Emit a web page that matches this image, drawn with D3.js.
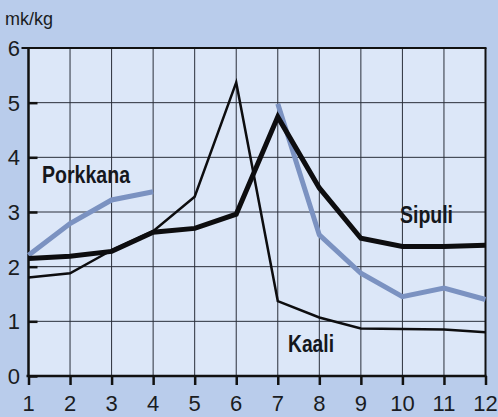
<!DOCTYPE html>
<html>
<head>
<meta charset="utf-8">
<script src="https://cdn.jsdelivr.net/npm/d3@7"></script>
<style>
  html, body { margin: 0; padding: 0; background: #b9cceb; }
  svg { display: block; font-family: "Liberation Sans", Arial, sans-serif; }
</style>
</head>
<body>
<svg id="svg1" width="498" height="417"></svg>
<script>
'use strict'

// months on the x axis
const months = [1, 2, 3, 4, 5, 6, 7, 8, 9, 10, 11, 12];
const yTicks = [0, 1, 2, 3, 4, 5, 6];

// prices, mk/kg (null = no value)
const kaali    = [1.80, 1.88, 2.30, 2.65, 3.28, 5.37, 1.37, 1.07, 0.87, 0.86, 0.85, 0.80];
const sipuli   = [2.15, 2.19, 2.28, 2.63, 2.70, 2.96, 4.74, 3.44, 2.52, 2.37, 2.37, 2.39];
const porkkana = [2.21, 2.79, 3.22, 3.37, null, null, 4.98, 2.58, 1.88, 1.45, 1.61, 1.40];

const svg = d3.select("#svg1");

let x = d3.scaleLinear().domain([1, 12]).range([28.5, 485.5]);
let y = d3.scaleLinear().domain([0, 6]).range([376, 48]);

// plot background
svg.append("rect")
  .attr("x", x(1)).attr("y", y(6))
  .attr("width", x(12) - x(1)).attr("height", y(0) - y(6))
  .attr("fill", "#dce7f8");

// grid
let grid = svg.append("g").attr("stroke", "#2a2f3a").attr("stroke-width", 1);
grid.selectAll(".vg").data(months).enter().append("line")
  .attr("x1", d => x(d)).attr("x2", d => x(d))
  .attr("y1", y(6)).attr("y2", y(0));
grid.selectAll(".hg").data(yTicks).enter().append("line")
  .attr("x1", x(1)).attr("x2", x(12))
  .attr("y1", d => y(d)).attr("y2", d => y(d));

// frame: left and bottom heavier
svg.append("line").attr("x1", x(1)).attr("x2", x(1)).attr("y1", y(6)).attr("y2", y(0))
  .attr("stroke", "#111").attr("stroke-width", 2.5);
svg.append("line").attr("x1", x(1) - 2).attr("x2", x(12) + 1).attr("y1", y(0)).attr("y2", y(0))
  .attr("stroke", "#111").attr("stroke-width", 2.5);
svg.append("line").attr("x1", x(1) - 7).attr("x2", x(12) + 1).attr("y1", y(6)).attr("y2", y(6))
  .attr("stroke", "#111").attr("stroke-width", 2);
svg.append("line").attr("x1", x(12)).attr("x2", x(12)).attr("y1", y(6)).attr("y2", y(0))
  .attr("stroke", "#111").attr("stroke-width", 2);

// axes
let yAxis = svg.append("g")
  .attr("transform", `translate(${x(1)},0)`)
  .call(d3.axisRight(y).tickValues(yTicks.slice(0, 6)).tickSize(9).tickFormat(""));
yAxis.select(".domain").remove();
yAxis.selectAll("line").attr("stroke", "#111").attr("stroke-width", 2.5);

let xAxis = svg.append("g")
  .attr("transform", `translate(0,${y(0)})`)
  .call(d3.axisBottom(x).tickValues(months).tickSize(9).tickFormat(""));
xAxis.select(".domain").remove();
xAxis.selectAll("line").attr("stroke", "#111").attr("stroke-width", 2.5);

// tick labels
svg.selectAll(".xl").data(months).enter().append("text")
  .attr("x", d => x(d)).attr("y", 411)
  .attr("text-anchor", "middle")
  .attr("font-size", 22).attr("fill", "#1a1c22")
  .text(d => d);
svg.selectAll(".yl").data(yTicks).enter().append("text")
  .attr("x", 20).attr("y", d => y(d) + 8)
  .attr("text-anchor", "end")
  .attr("font-size", 22).attr("fill", "#1a1c22")
  .text(d => d);

svg.append("text").attr("x", 5).attr("y", 25)
  .attr("font-size", 18).attr("fill", "#1a1c22")
  .attr("textLength", 48).attr("lengthAdjust", "spacingAndGlyphs")
  .text("mk/kg");

// series lines
let line = d3.line()
  .defined(d => d[1] !== null)
  .x(d => x(d[0])).y(d => y(d[1]));

function drawLine(values, colour, width) {
  svg.append("path")
    .datum(months.map((m, i) => [m, values[i]]))
    .attr("d", line)
    .attr("fill", "none")
    .attr("stroke", colour)
    .attr("stroke-width", width)
    .attr("stroke-linejoin", "miter");
}

drawLine(porkkana, "#7b92c1", 5);
drawLine(kaali, "#0d0d0f", 2.5);
drawLine(sipuli, "#0d0d0f", 5);

// series labels
function label(txt, lx, ly, w) {
  svg.append("text").attr("x", lx).attr("y", ly)
    .attr("font-size", 23).attr("font-weight", "bold").attr("fill", "#15171c")
    .attr("textLength", w).attr("lengthAdjust", "spacingAndGlyphs")
    .text(txt);
}
label("Porkkana", 42, 183, 88);
label("Sipuli", 400, 223, 53);
label("Kaali", 288, 352, 46);
</script>
</body>
</html>
